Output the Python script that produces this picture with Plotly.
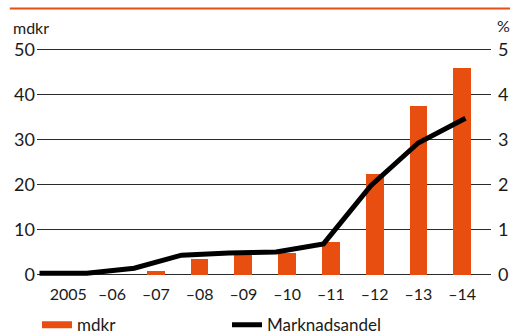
import plotly.graph_objects as go

years = [2005, 2006, 2007, 2008, 2009, 2010, 2011, 2012, 2013, 2014]
year_labels = ["2005", "–06", "–07", "–08", "–09", "–10", "–11", "–12", "–13", "–14"]
mdkr = [0.0, 0.0, 0.8, 3.5, 4.3, 4.8, 7.2, 22.3, 37.5, 45.9]
marknadsandel = [0.03, 0.03, 0.14, 0.43, 0.48, 0.5, 0.68, 1.97, 2.92, 3.47]
left_ticks = [0, 10, 20, 30, 40, 50]
right_ticks = [0, 1, 2, 3, 4, 5]

ORANGE = "#e84e0f"
FONT = "Lato"

fig = go.Figure()
fig.add_trace(go.Bar(x=years, y=mdkr, marker=dict(color=ORANGE, line=dict(width=0)),
                     width=0.405, showlegend=False, xaxis="x", yaxis="y"))
# legend entry for the bars (wide flat swatch as in the reference)
fig.add_trace(go.Scatter(x=[None], y=[None], mode="lines", name="mdkr",
                         line=dict(color=ORANGE, width=7), xaxis="x", yaxis="y"))
fig.add_trace(go.Scatter(x=years, y=marknadsandel, mode="lines", name="Marknadsandel",
                         line=dict(color="black", width=5), xaxis="x2", yaxis="y2"))

fig.update_layout(
    width=510, height=336,
    margin=dict(l=37, r=19, t=48, b=59, autoexpand=False),
    paper_bgcolor="white", plot_bgcolor="white",
    font=dict(family=FONT, color="#1a1a1a"),
    bargap=0,
    xaxis=dict(type="linear", range=[2004.286, 2014.658], tickvals=years, ticktext=year_labels,
               showgrid=False, zeroline=False, showline=False, ticks="",
               tickfont=dict(size=16), ticklabelstandoff=6),
    xaxis2=dict(type="linear", range=[2004.947, 2014.539], overlaying="x", visible=False),
    yaxis=dict(range=[-0.555, 50.29], tickvals=left_ticks, showgrid=True, gridcolor="#2a2a2a",
               gridwidth=1, zeroline=False, showline=False, ticks="", tickfont=dict(size=18),
               ticklabelstandoff=1),
    yaxis2=dict(range=[-0.0555, 5.029], tickvals=right_ticks, overlaying="y", side="right",
                showgrid=False, zeroline=False, showline=False, ticks="", tickfont=dict(size=18),
                ticklabelstandoff=6),
    legend=dict(orientation="h", x=0.0, xanchor="left", y=-0.132, yanchor="top",
                font=dict(size=17), traceorder="normal", entrywidth=145,
                bgcolor="rgba(0,0,0,0)"),
    showlegend=True,
)

fig.add_shape(type="line", xref="paper", yref="paper", x0=-0.06, x1=1.05, y0=1.1725, y1=1.1725,
              line=dict(color=ORANGE, width=2))
fig.add_annotation(text="mdkr", xref="paper", yref="paper", x=-0.058, y=1.09,
                   xanchor="left", yanchor="middle", showarrow=False, font=dict(size=16))
fig.add_annotation(text="%", xref="paper", yref="paper", x=1.0, y=1.10, xshift=4,
                   xanchor="left", yanchor="middle", showarrow=False, font=dict(size=16))

fig.write_html("out.html")
